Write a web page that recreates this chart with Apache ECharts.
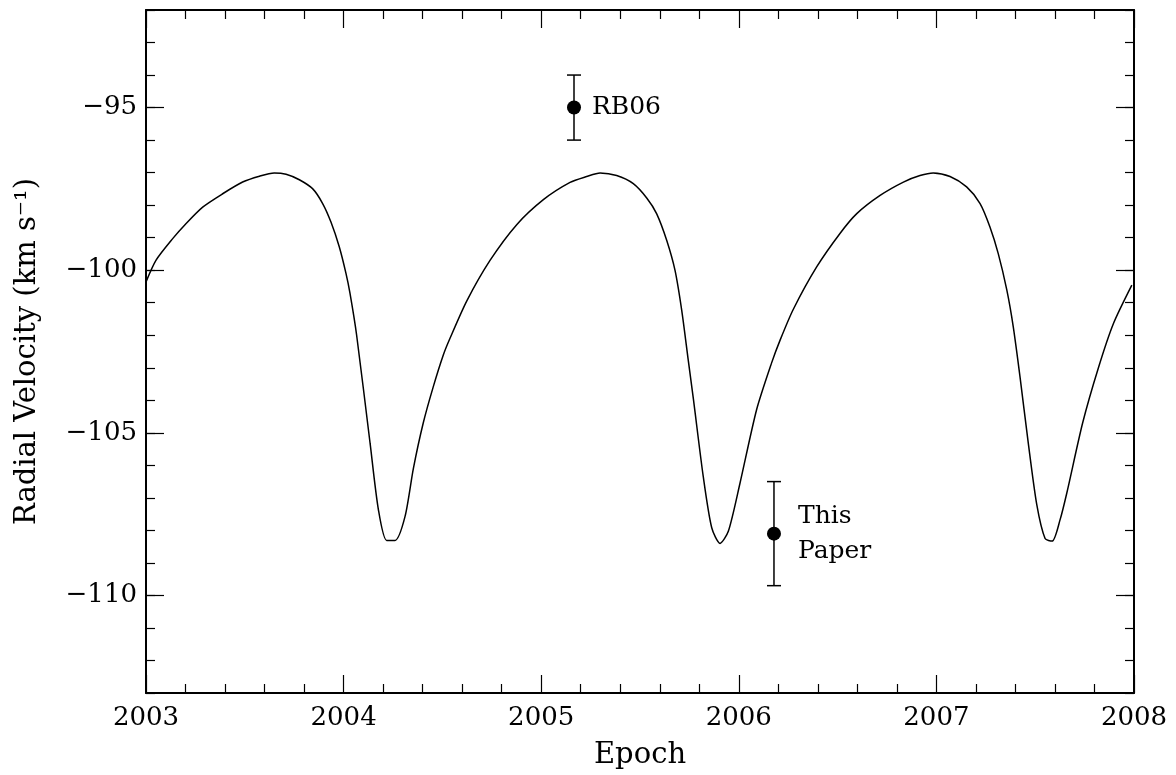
<!DOCTYPE html>
<html>
<head>
<meta charset="utf-8">
<script src="https://cdn.jsdelivr.net/npm/echarts@6/dist/echarts.min.js"></script>
<style>
  html, body { margin: 0; padding: 0; background: #fff; }
  #main { width: 1176px; height: 775px; }
</style>
</head>
<body>
<div id="main"></div>
<script>
// model curve (epoch, radial velocity)
var curveEpochs = [
    2003.000, 2003.051, 2003.135, 2003.202, 2003.287, 2003.388, 2003.489, 2003.574, 2003.649, 2003.709,
    2003.776, 2003.844, 2003.894, 2003.936, 2003.978, 2004.012, 2004.032, 2004.066, 2004.134, 2004.176,
    2004.218, 2004.260, 2004.311, 2004.353, 2004.403, 2004.454, 2004.505, 2004.538, 2004.623, 2004.741,
    2004.876, 2005.011, 2005.146, 2005.230, 2005.298, 2005.382, 2005.466, 2005.534, 2005.584, 2005.635,
    2005.677, 2005.711, 2005.744, 2005.770, 2005.820, 2005.863, 2005.905, 2005.947, 2006.006, 2006.090,
    2006.166, 2006.209, 2006.276, 2006.394, 2006.512, 2006.597, 2006.715, 2006.833, 2006.917, 2006.984,
    2007.069, 2007.153, 2007.221, 2007.271, 2007.313, 2007.356, 2007.389, 2007.423, 2007.465, 2007.508,
    2007.550, 2007.586, 2007.626, 2007.660, 2007.740, 2007.820, 2007.896, 2007.989
];
var curveVelocities = [
    -100.36, -99.69, -99.03, -98.57, -98.06, -97.65, -97.29, -97.11, -97.01, -97.05,
    -97.22, -97.50, -97.95, -98.52, -99.28, -100.10, -100.70, -102.00, -105.32, -107.36,
    -108.31, -108.31, -107.57, -106.10, -104.70, -103.58, -102.60, -102.10, -100.95, -99.70,
    -98.60, -97.83, -97.30, -97.12, -97.01, -97.09, -97.34, -97.78, -98.26, -99.08,
    -100.00, -101.23, -102.76, -103.95, -106.34, -107.92, -108.40, -108.03, -106.55, -104.29,
    -102.85, -102.15, -101.20, -99.90, -98.87, -98.26, -97.70, -97.29, -97.09, -97.01,
    -97.12, -97.44, -97.95, -98.67, -99.49, -100.60, -101.74, -103.27, -105.32, -107.21,
    -108.25, -108.33, -107.67, -106.85, -104.70, -103.00, -101.64, -100.46
];

// measurements
var pointEpochs = [2005.166, 2006.178];
var pointVelocities = [-95.0, -108.1];
var pointErrors = [1.0, 1.6];
var pointLabels = ['RB06', 'This\nPaper'];

var yMajorTicks = [-110, -105, -100, -95];

var curveData = curveEpochs.map(function (x, i) { return [x, curveVelocities[i]]; });
var pointData = pointEpochs.map(function (x, i) { return [x, pointVelocities[i], pointErrors[i]]; });

var myChart = echarts.init(document.getElementById('main'));

var fontFamily = '"DejaVu Serif", "Liberation Serif", serif';
var lineStyle = { color: '#000', width: 2 };
var tickStyle = { color: '#000', width: 1.2 };

function minusFmt(v) {
    return v < 0 ? '\u2212' + Math.abs(v) : String(v);
}

var option = {
    backgroundColor: '#fff',
    animation: false,
    grid: { left: 146, right: 42, top: 10, bottom: 82 },
    xAxis: [
        {
            type: 'value', min: 2003, max: 2008, interval: 1, position: 'bottom',
            axisLine: { lineStyle: lineStyle },
            axisTick: { inside: true, length: 18, lineStyle: tickStyle },
            minorTick: { show: true, splitNumber: 5, length: 9, lineStyle: tickStyle },
            splitLine: { show: false },
            axisLabel: {
                color: '#000', fontFamily: fontFamily, fontSize: 26, margin: 12,
                formatter: function (v) { return String(v); }
            },
            name: 'Epoch', nameLocation: 'middle', nameGap: 48,
            nameTextStyle: { color: '#000', fontFamily: fontFamily, fontSize: 29 }
        },
        {
            type: 'value', min: 2003, max: 2008, interval: 1, position: 'top',
            axisLine: { lineStyle: lineStyle },
            axisTick: { inside: true, length: 18, lineStyle: tickStyle },
            minorTick: { show: true, splitNumber: 5, length: 9, lineStyle: tickStyle },
            splitLine: { show: false },
            axisLabel: { show: false }
        }
    ],
    yAxis: [
        {
            type: 'value', min: -113, max: -92, interval: 1, position: 'left',
            axisLine: { lineStyle: lineStyle },
            axisTick: { inside: true, length: 9, lineStyle: tickStyle },
            splitLine: { show: false },
            axisLabel: { show: false },
            name: 'Radial Velocity (km s\u207B\u00B9)', nameLocation: 'middle', nameGap: 104,
            nameTextStyle: { color: '#000', fontFamily: fontFamily, fontSize: 29 }
        },
        {
            type: 'value', min: -113, max: -92, position: 'left',
            axisLine: { show: false },
            axisTick: { inside: true, length: 18, customValues: yMajorTicks, lineStyle: tickStyle },
            splitLine: { show: false },
            axisLabel: {
                color: '#000', fontFamily: fontFamily, fontSize: 26, margin: 9,
                customValues: yMajorTicks, formatter: minusFmt
            }
        },
        {
            type: 'value', min: -113, max: -92, interval: 1, position: 'right',
            axisLine: { lineStyle: lineStyle },
            axisTick: { inside: true, length: 9, lineStyle: tickStyle },
            splitLine: { show: false },
            axisLabel: { show: false }
        },
        {
            type: 'value', min: -113, max: -92, position: 'right',
            axisLine: { show: false },
            axisTick: { inside: true, length: 18, customValues: yMajorTicks, lineStyle: tickStyle },
            splitLine: { show: false },
            axisLabel: { show: false }
        }
    ],
    series: [
        {
            name: 'model',
            type: 'line',
            data: curveData,
            showSymbol: false,
            smooth: 0.25,
            lineStyle: { color: '#000', width: 1.5 },
            silent: true
        },
        {
            name: 'errors',
            type: 'custom',
            data: pointData,
            renderItem: function (params, api) {
                var x = api.value(0), y = api.value(1), e = api.value(2);
                var hi = api.coord([x, y + e]);
                var lo = api.coord([x, y - e]);
                var cap = 7;
                var st = { stroke: '#000', lineWidth: 1.5 };
                return {
                    type: 'group',
                    children: [
                        { type: 'line', shape: { x1: hi[0], y1: hi[1], x2: lo[0], y2: lo[1] }, style: st },
                        { type: 'line', shape: { x1: hi[0] - cap, y1: hi[1], x2: hi[0] + cap, y2: hi[1] }, style: st },
                        { type: 'line', shape: { x1: lo[0] - cap, y1: lo[1], x2: lo[0] + cap, y2: lo[1] }, style: st }
                    ]
                };
            },
            z: 3
        },
        {
            name: 'points',
            type: 'scatter',
            data: pointData.map(function (d, i) {
                return {
                    value: d,
                    label: {
                        show: true,
                        position: 'right',
                        distance: i === 0 ? 11 : 17,
                        formatter: pointLabels[i],
                        color: '#000',
                        opacity: 1,
                        fontFamily: fontFamily,
                        fontSize: 25,
                        lineHeight: 35,
                        align: 'left'
                    }
                };
            }),
            symbol: 'circle',
            symbolSize: 14,
            itemStyle: { color: '#000', opacity: 1 },
            z: 4
        }
    ]
};

myChart.setOption(option);
</script>
</body>
</html>
